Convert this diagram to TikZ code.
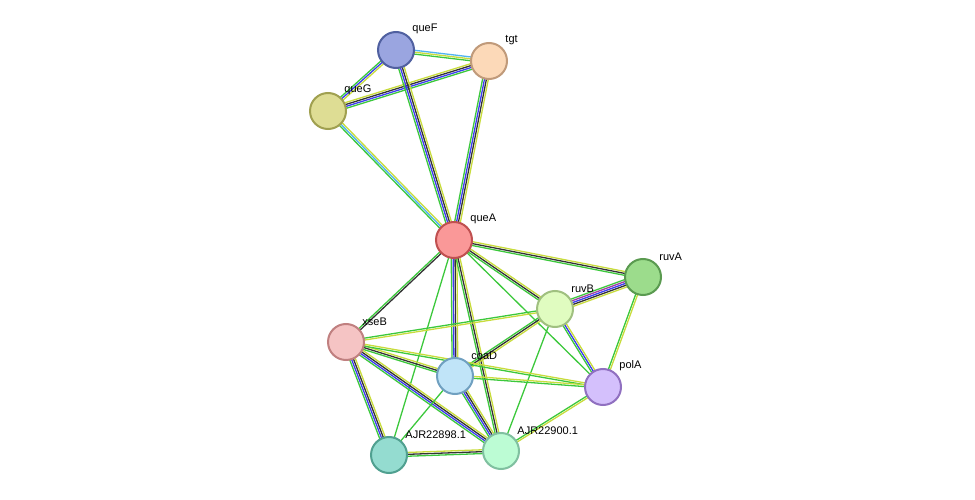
\documentclass[tikz,border=0pt]{standalone}
\usepackage{fontspec}
\setmainfont{Liberation Sans}
\usetikzlibrary{calc}

\definecolor{cgreen}{HTML}{3CC83C}
\definecolor{cyell}{HTML}{C8DC3C}
\definecolor{cblue}{HTML}{3C3CF0}
\definecolor{cblack}{HTML}{333333}
\definecolor{cpurp}{HTML}{A040A0}
\definecolor{clblue}{HTML}{50B4F0}

\definecolor{fqueF}{HTML}{9AA5E0}\definecolor{dqueF}{HTML}{5060A0}
\definecolor{ftgt}{HTML}{FCD9B8}\definecolor{dtgt}{HTML}{C09A7A}
\definecolor{fqueG}{HTML}{DEDD94}\definecolor{dqueG}{HTML}{A0A050}
\definecolor{fqueA}{HTML}{FA9898}\definecolor{dqueA}{HTML}{C05050}
\definecolor{fruvA}{HTML}{9CDC8C}\definecolor{druvA}{HTML}{5A9A50}
\definecolor{fruvB}{HTML}{E0FCC0}\definecolor{druvB}{HTML}{A0C080}
\definecolor{fxseB}{HTML}{F5C4C4}\definecolor{dxseB}{HTML}{C08080}
\definecolor{fcoaD}{HTML}{C0E4F8}\definecolor{dcoaD}{HTML}{70A0C0}
\definecolor{fpolA}{HTML}{D4C0FC}\definecolor{dpolA}{HTML}{9070C0}
\definecolor{fajrA}{HTML}{94DCD0}\definecolor{dajrA}{HTML}{50A090}
\definecolor{fajrB}{HTML}{BCFCD4}\definecolor{dajrB}{HTML}{80C0A0}

% draw one link as parallel coloured lines
\newcommand{\lnk}[4]{%
  \foreach \c [count=\i] in {#4} {
    \pgfmathsetmacro{\off}{(\i-(#3+1)/2)*1.9}
    \draw[\c, line width=1.3pt] ($(#1)!\off pt!90:(#2)$) -- ($(#2)!\off pt!-90:(#1)$);
  }}

\begin{document}
\begin{tikzpicture}[
  x=1pt, y=-1pt,
  font=\fontsize{11}{12}\selectfont,
  prot/.style 2 args={
    circle,
    minimum size=36pt,
    line width=2pt,
    fill=f#1,
    draw=d#1,
    label={[anchor=south west, inner sep=0, label distance=4pt]45:#2}
  }
  ]
  \useasboundingbox (0,0) rectangle (975,500);

  \coordinate (queF) at (396,50);
  \coordinate (tgt) at (489,61);
  \coordinate (queG) at (328,111);
  \coordinate (queA) at (454,240);
  \coordinate (ruvA) at (643,277);
  \coordinate (ruvB) at (555,309);
  \coordinate (xseB) at (346,342);
  \coordinate (coaD) at (455,376);
  \coordinate (polA) at (603,387);
  \coordinate (ajrA) at (389,455);
  \coordinate (ajrB) at (501,451);

  % links
  \lnk{queF}{tgt}{3}{cgreen,cyell,clblue}
  \lnk{queF}{queG}{3}{cgreen,cblue,cyell}
  \lnk{queG}{tgt}{4}{cgreen,cblue,cblack,cyell}
  \lnk{queF}{queA}{4}{cgreen,cblue,cblack,cyell}
  \lnk{tgt}{queA}{4}{cgreen,cblue,cblack,cyell}
  \lnk{queG}{queA}{3}{cgreen,clblue,cyell}
  \lnk{queA}{ruvA}{3}{cgreen,cblack,cyell}
  \lnk{queA}{ruvB}{3}{cgreen,cblack,cyell}
  \lnk{queA}{xseB}{2}{cgreen,cblack}
  \lnk{queA}{coaD}{4}{cgreen,cblue,cblack,cyell}
  \lnk{queA}{polA}{1}{cgreen}
  \lnk{queA}{ajrA}{1}{cgreen}
  \lnk{queA}{ajrB}{3}{cgreen,cblack,cyell}
  \lnk{ruvA}{ruvB}{5}{cgreen,cpurp,cblue,cblack,cyell}
  \lnk{ruvA}{polA}{2}{cgreen,cyell}
  \lnk{ruvB}{polA}{3}{cgreen,cblue,cyell}
  \lnk{ruvB}{xseB}{2}{cgreen,cyell}
  \lnk{ruvB}{coaD}{3}{cgreen,cblack,cyell}
  \lnk{ruvB}{ajrB}{1}{cgreen}
  \lnk{xseB}{coaD}{3}{cgreen,cblack,cyell}
  \lnk{xseB}{polA}{2}{cgreen,cyell}
  \lnk{xseB}{ajrA}{4}{cgreen,cblue,cblack,cyell}
  \lnk{xseB}{ajrB}{4}{cgreen,cblue,cblack,cyell}
  \lnk{coaD}{polA}{2}{cgreen,cyell}
  \lnk{coaD}{ajrA}{1}{cgreen}
  \lnk{coaD}{ajrB}{4}{cgreen,cblue,cblack,cyell}
  \lnk{ajrA}{ajrB}{3}{cgreen,cblack,cyell}
  \lnk{polA}{ajrB}{2}{cgreen,cyell}

  % proteins
  \node[prot={queF}{queF}] (nqueF) at (queF) {};
  \node[prot={tgt}{tgt}] (ntgt) at (tgt) {};
  \node[prot={queG}{queG}] (nqueG) at (queG) {};
  \node[prot={queA}{queA}] (nqueA) at (queA) {};
  \node[prot={ruvA}{ruvA}] (nruvA) at (ruvA) {};
  \node[prot={ruvB}{ruvB}] (nruvB) at (ruvB) {};
  \node[prot={xseB}{xseB}] (nxseB) at (xseB) {};
  \node[prot={coaD}{coaD}] (ncoaD) at (coaD) {};
  \node[prot={polA}{polA}] (npolA) at (polA) {};
  \node[prot={ajrA}{AJR22898.1}] (najrA) at (ajrA) {};
  \node[prot={ajrB}{AJR22900.1}] (najrB) at (ajrB) {};
\end{tikzpicture}
\end{document}
